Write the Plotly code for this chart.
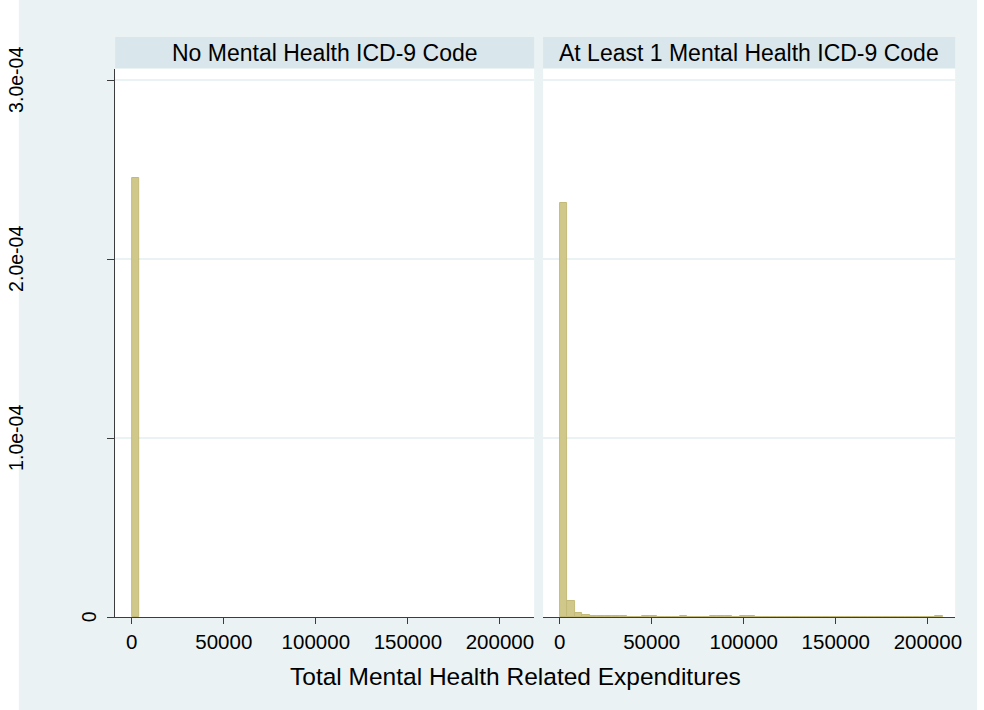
import plotly.graph_objects as go

# Histogram bins (density scale) of total mental health related expenditures
bin_width = 4080
left_density = [2.45e-4]
right_density = [
    2.315e-4, 9.1e-6, 2.4e-6, 1.0e-6, 5e-7, 4e-7, 3e-7, 3e-7, 3e-7, 2.5e-7,
    0, 3e-7, 3e-7, 2.5e-7, 0, 0, 3e-7, 0, 0, 0,
    3e-7, 3e-7, 3e-7, 0, 3e-7, 3e-7, 0, 0, 0, 0,
    0, 0, 0, 0, 0, 0, 0, 0, 0, 0,
    0, 0, 0, 0, 0, 0, 0, 0, 0, 0,
    3e-7,
]
panel_titles = ["No Mental Health ICD-9 Code", "At Least 1 Mental Health ICD-9 Code"]
x_ticks = [0, 50000, 100000, 150000, 200000]
y_ticks = [0, 1e-4, 2e-4, 3e-4]
y_tick_labels = ["0", "1.0e-04", "2.0e-04", "3.0e-04"]
x_title = "Total Mental Health Related Expenditures"

W, H = 984, 710
FONT = "Arial, Liberation Sans, sans-serif"
BG = "#EAF2F3"
STRIP = "#D9E6EB"
BAR_FILL = "#D0C88B"
BAR_LINE = "#C4BA78"
AXIS = "#3c3c3c"

def px_x(p):
    return p / W

def px_y(p):
    return 1 - p / H

# panel pixel geometry
top, bottom = 69, 617
left_px = (116, 538)
right_px = (547, 962)
px_per_unit = 92.7 / 50000
x0 = -9000

fig = go.Figure()

def bars(dens, xa, ya):
    xs = [i * bin_width for i in range(len(dens))]
    return go.Bar(
        x=xs, y=dens, width=[bin_width] * len(dens), offset=0,
        marker=dict(color=BAR_FILL, line=dict(color=BAR_LINE, width=1)),
        xaxis=xa, yaxis=ya, showlegend=False, hoverinfo="skip",
    )

fig.add_trace(bars(left_density, "x", "y"))
fig.add_trace(bars(right_density, "x2", "y2"))

y_range = [0, (bottom - top) / 179 * 1e-4]
ydom = [px_y(bottom), px_y(top)]

def xaxis(pxr):
    span = (pxr[1] - pxr[0]) / px_per_unit
    return dict(
        domain=[px_x(pxr[0]), px_x(pxr[1])], range=[x0, x0 + span],
        tickvals=x_ticks, ticktext=[str(v) for v in x_ticks],
        ticks="outside", ticklen=6, tickcolor=AXIS, tickwidth=1,
        showline=True, linecolor=AXIS, linewidth=1, showgrid=False,
        zeroline=False, tickfont=dict(family=FONT, size=20.5, color="#000"),
        fixedrange=True,
    )

fig.update_layout(
    width=W, height=H, margin=dict(l=0, r=0, t=0, b=0),
    paper_bgcolor="white", plot_bgcolor="white", bargap=0,
    xaxis=xaxis(left_px),
    xaxis2=dict(xaxis(right_px), anchor="y2"),
    yaxis=dict(
        domain=ydom, range=y_range, tickvals=y_ticks, showticklabels=False,
        ticks="outside", ticklen=7, tickcolor=AXIS, showline=True,
        linecolor=AXIS, linewidth=1, showgrid=True, gridcolor=BG, gridwidth=1.5,
        zeroline=False, anchor="x",
    ),
    yaxis2=dict(
        domain=ydom, range=y_range, tickvals=y_ticks, showticklabels=False,
        ticks="", showline=False, showgrid=True, gridcolor=BG, gridwidth=1.5,
        zeroline=False, anchor="x2",
    ),
)

# outer graph region, then white plot regions and title strips on top of it
shapes = [
    dict(type="rect", xref="paper", yref="paper", x0=px_x(19), x1=1, y0=0, y1=1,
         fillcolor=BG, line=dict(width=0), layer="below"),
]
annotations = []
for pxr, title in zip([left_px, right_px], panel_titles):
    shapes.append(dict(type="rect", xref="paper", yref="paper",
                       x0=px_x(pxr[0]), x1=px_x(pxr[1]), y0=px_y(bottom), y1=px_y(top),
                       fillcolor="white", line=dict(width=0), layer="below"))
    shapes.append(dict(type="rect", xref="paper", yref="paper",
                       x0=px_x(pxr[0]), x1=px_x(pxr[1]), y0=px_y(68), y1=px_y(37),
                       fillcolor=STRIP, line=dict(width=0), layer="below"))
    annotations.append(dict(text=title, xref="paper", yref="paper",
                            x=px_x((pxr[0] + pxr[1]) / 2), y=px_y(52.5),
                            showarrow=False, xanchor="center", yanchor="middle",
                            font=dict(family=FONT, size=23, color="#000")))

for v, lab in zip(y_ticks, y_tick_labels):
    xpos = 90 if lab == "0" else 16
    annotations.append(dict(text=lab, xref="paper", yref="y", x=px_x(xpos), y=v,
                            textangle=-90, showarrow=False,
                            xanchor="center", yanchor="middle",
                            font=dict(family=FONT, size=19.5, color="#000")))

annotations.append(dict(text=x_title, xref="paper", yref="paper",
                        x=px_x(519), y=px_y(676), showarrow=False,
                        xanchor="center", yanchor="middle",
                        font=dict(family=FONT, size=24.5, color="#000")))

fig.update_layout(shapes=shapes, annotations=annotations)
fig.write_html("out.html")
